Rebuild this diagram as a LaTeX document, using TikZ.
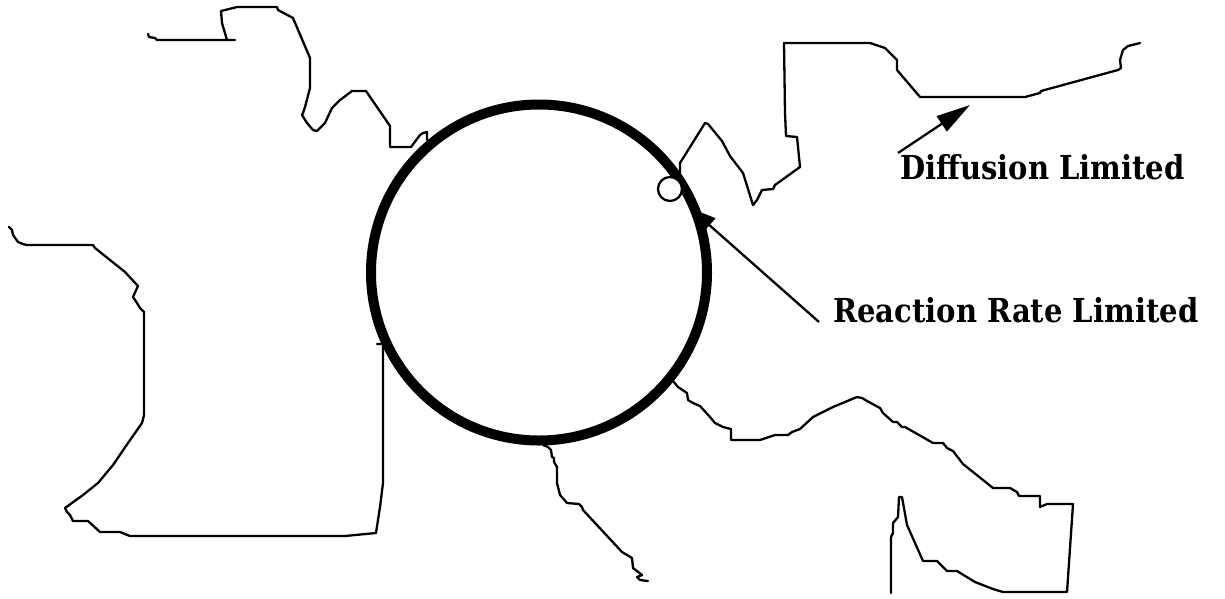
\documentclass[tikz,border=0pt]{standalone}
\usepackage{fontspec}
\setmainfont{Liberation Serif}
\newfontfamily\labelfont[FakeStretch=0.88]{DejaVu Serif}
\usetikzlibrary{arrows.meta}
\begin{document}
\begin{tikzpicture}[x=1pt,y=-1pt,
  coast/.style={line width=2.3pt,line join=round,line cap=round},
  label/.style={anchor=base west,inner sep=0pt,font=\labelfont\fontsize{33}{36}\selectfont\bfseries},
  pointer/.style={line width=2.3pt}]
\useasboundingbox (0,0) rectangle (1225,598);
% outlines
\draw[coast] (148,34)--(149,37)--(155,38)--(157,40)--(235,40)--(227,40)--(222,23)--(221,11)--(237,7)--(277,7)--(278,10)--(293,18)--(310,58)--(310,88)--(305,107)--(303,113)--(302,115)--(307,123)--(313,130)--(317,131)--(325,123)--(332,108)--(340,100)--(352,91)--(366,91)--(390,126)--(390,147)--(411,147)--(420,135)--(423,133)--(427,132)--(427,140);
\draw[coast] (9,227)--(12,230)--(13,235)--(18,242)--(23,244)--(27,245)--(93,245)--(95,248)--(110,260)--(125,272)--(138,286)--(133,297)--(137,303)--(140,308)--(144,312)--(144,415)--(142,423)--(128,443)--(113,465)--(98,483)--(83,495)--(65,508)--(67,512)--(70,515)--(73,521)--(88,521)--(100,532)--(120,532)--(130,536)--(200,536)--(345,536)--(376,533)--(380,507)--(383,483)--(383,344)--(377,344);
\draw[coast] (680,173)--(680,163)--(705,123)--(708,124)--(722,141)--(730,156)--(743,173)--(753,205)--(757,200)--(762,190)--(773,189)--(775,185)--(800,167)--(797,137)--(786,136)--(785,113)--(784,43)--(870,43)--(885,48)--(897,60)--(897,70)--(920,97)--(1025,97)--(1040,93)--(1041,91)--(1118,70)--(1121,68)--(1120,60)--(1123,50)--(1128,46)--(1132,45)--(1140,43);
\draw[coast] (673,381)--(678,387)--(687,393)--(688,400)--(693,403)--(700,406)--(710,417)--(715,423)--(723,427)--(731,429)--(731,440)--(760,440)--(775,435)--(788,435)--(792,432)--(800,429)--(813,417)--(823,412)--(833,407)--(857,397)--(862,398)--(867,401)--(880,408)--(883,413)--(893,422)--(897,422)--(902,427)--(905,427)--(933,443)--(943,443)--(947,448)--(953,451)--(963,464)--(993,488)--(1010,488)--(1017,492)--(1019,496)--(1040,496)--(1040,507)--(1047,504)--(1073,504)--(1067,592)--(1003,592)--(993,589)--(975,582)--(957,571)--(947,571)--(937,561)--(923,561)--(907,525)--(902,497)--(899,497)--(898,517)--(893,523)--(893,533)--(891,537)--(891,593);
\draw[coast] (543,445)--(548,447)--(551,450)--(552,457)--(554,458)--(554,462)--(557,467)--(557,483)--(560,495)--(567,503)--(579,504)--(582,507)--(583,510)--(622,552)--(632,558)--(633,568)--(637,571)--(642,575)--(637,577)--(640,580)--(648,581);
% cell
\node[circle,draw,line width=10pt,minimum size=336pt,inner sep=0pt] (cell) at (539,272.5) {};
\node[circle,draw,fill=white,line width=2.3pt,minimum size=24pt,inner sep=0pt] (site) at (670,189) {};
% labels
\node[label] (diff) at (900,179) {Diffusion Limited};
\node[label] (rr) at (833,322) {Reaction Rate Limited};
\coordinate (difftail) at (898,153);
\coordinate (difftip) at (970,105);
\coordinate (rrtail) at (819,322);
\coordinate (rrtip) at (690,208);
\draw[pointer,-{Triangle[length=34pt,width=18pt]}] (difftail) -- (difftip);
\draw[pointer,-{Triangle[length=26pt,width=18pt]}] (rrtail) -- (rrtip);
\end{tikzpicture}
\end{document}
